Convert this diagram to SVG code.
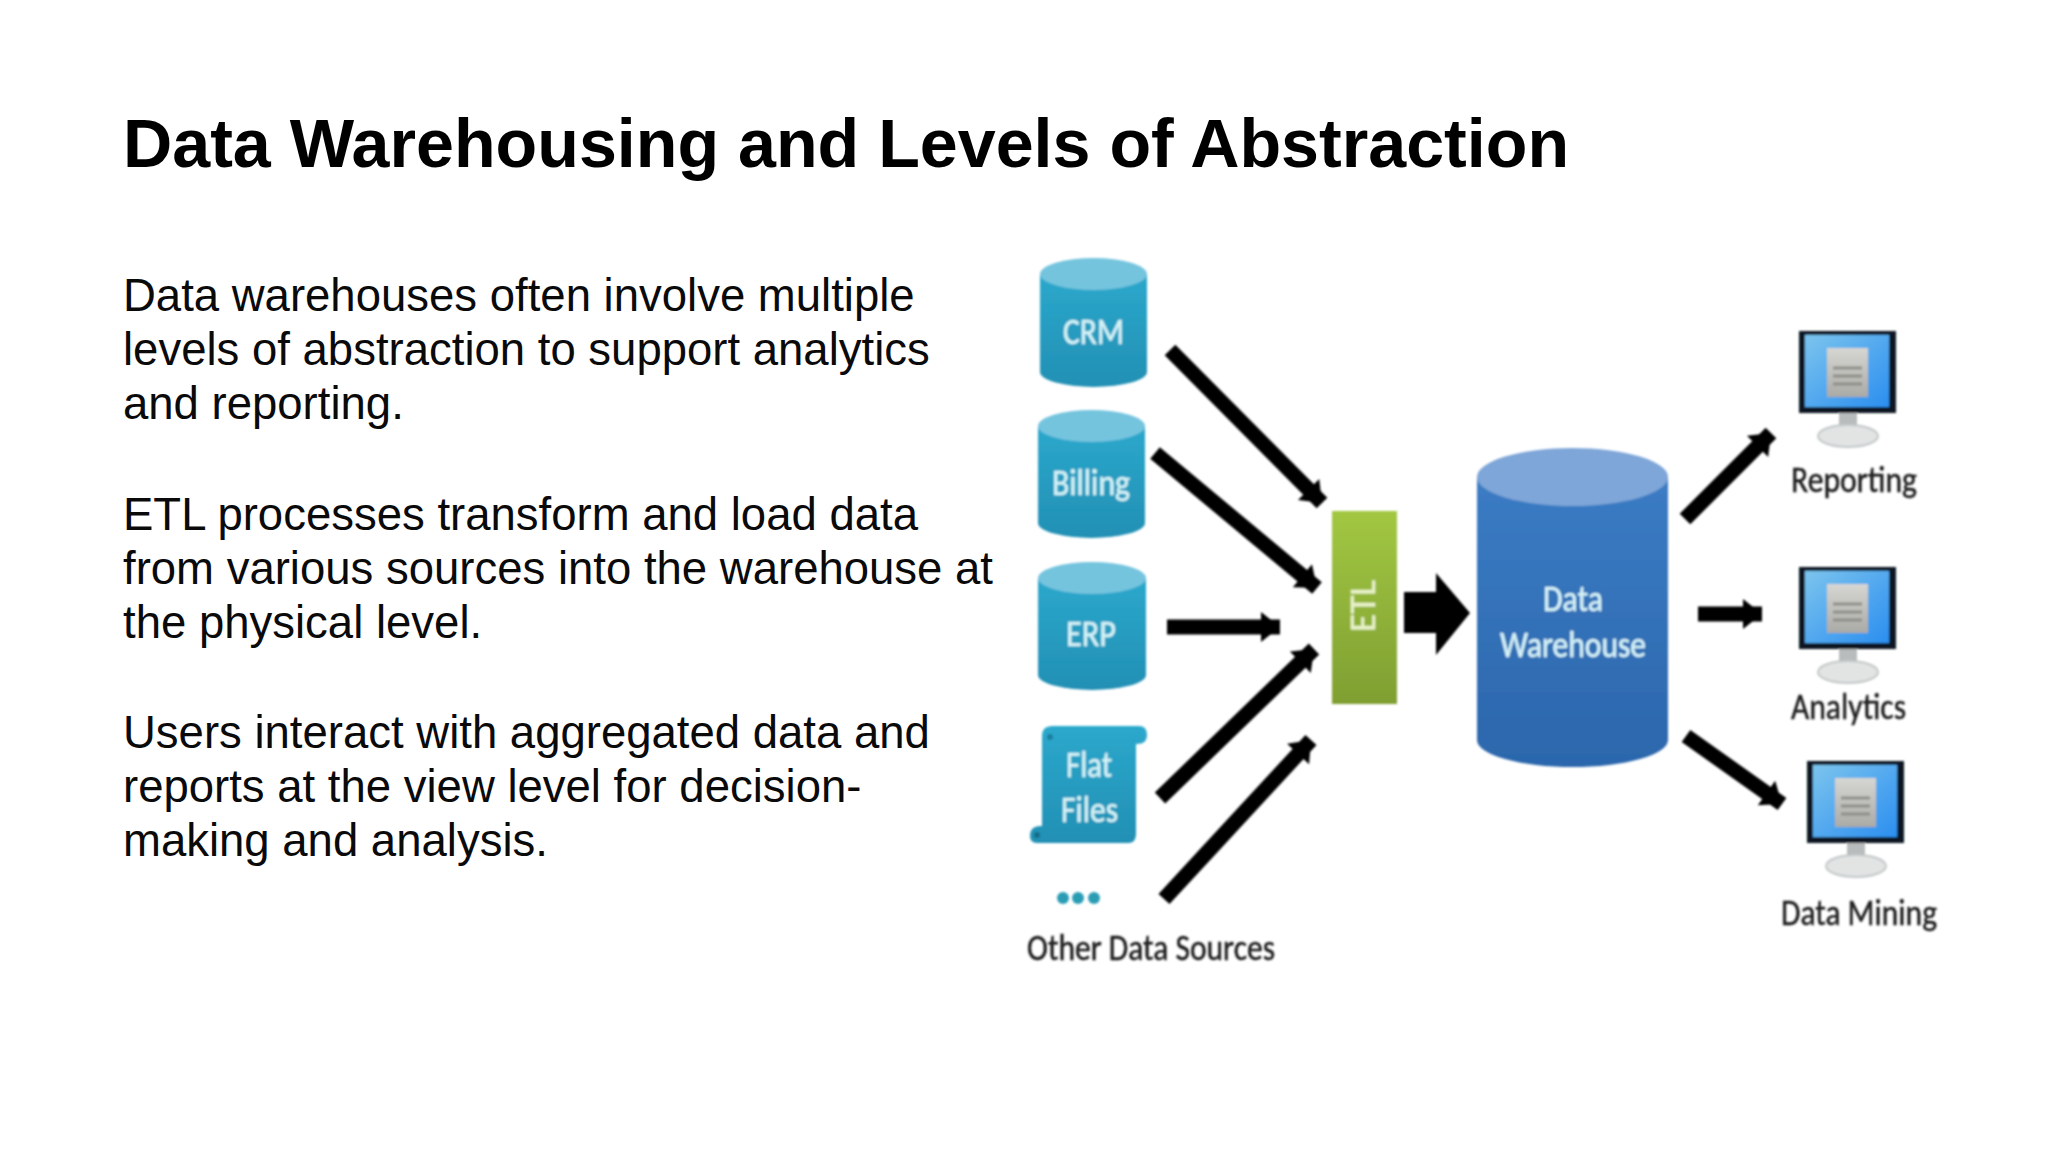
<svg xmlns="http://www.w3.org/2000/svg" width="2048" height="1152" viewBox="0 0 2048 1152">
<style>
.title{font:bold 68.2px "Liberation Sans",Arial,sans-serif;fill:#000}
.body{font:45.5px "Liberation Sans",Arial,sans-serif;fill:#0a0a0a}
.lab{font-family:Carlito,Lato,"Open Sans",sans-serif;font-size:36px;fill:#d4f3f8;stroke:#d4f3f8;stroke-width:.5;text-anchor:start}
.dark{fill:#1e1e1e;stroke:#1e1e1e}
.arr{stroke:#000;stroke-width:15;fill:none;marker-end:url(#ah)}
</style>
<defs>
<filter id="soft" x="-10%" y="-10%" width="120%" height="120%"><feGaussianBlur stdDeviation="1.1"/></filter>
<marker id="ah" markerUnits="userSpaceOnUse" markerWidth="30" markerHeight="34" refX="25" refY="15" orient="auto"><path d="M6 0L25 15L6 30Z" fill="#000"/></marker>
<linearGradient id="teal" x1="0" y1="0" x2="0" y2="1"><stop offset="0" stop-color="#2ba8cc"/><stop offset="1" stop-color="#2290b4"/></linearGradient>
<linearGradient id="blue" x1="0" y1="0" x2="0" y2="1"><stop offset="0" stop-color="#3b7cc4"/><stop offset="1" stop-color="#2c66ac"/></linearGradient>
<linearGradient id="green" x1="0" y1="0" x2="0" y2="1"><stop offset="0" stop-color="#a2c742"/><stop offset="1" stop-color="#7f9f32"/></linearGradient>
<linearGradient id="scr" x1="0" y1="0" x2="1" y2="1"><stop offset="0" stop-color="#7cc4ee"/><stop offset="1" stop-color="#2b8ef0"/></linearGradient>
<linearGradient id="pap" x1="0" y1="0" x2="0" y2="1"><stop offset="0" stop-color="#d6d6d2"/><stop offset="1" stop-color="#aaaaa6"/></linearGradient>
<g id="mon">
<rect x="1839" y="413" width="18" height="16" fill="#b8bcbc"/>
<ellipse cx="1848" cy="436" rx="30" ry="11" fill="#e2e4e4" stroke="#c4c8c8" stroke-width="2"/>
<rect x="1799" y="331" width="97" height="82" fill="#0c1820"/>
<rect x="1805" y="335" width="84" height="72" fill="url(#scr)"/>
<rect x="1827" y="348" width="41" height="49" fill="url(#pap)"/>
<path d="M1833 368H1862M1833 376H1862M1833 384H1862" stroke="#8f8f8a" stroke-width="3" fill="none"/>
</g>
</defs>
<rect width="2048" height="1152" fill="#fff"/>
<text class="title" x="123" y="167">Data Warehousing and Levels of Abstraction</text>
<g id="body-text">
<text class="body" x="123" y="311">Data warehouses often involve multiple</text>
<text class="body" x="123" y="365">levels of abstraction to support analytics</text>
<text class="body" x="123" y="419">and reporting.</text>
<text class="body" x="123" y="530">ETL processes transform and load data</text>
<text class="body" x="123" y="584">from various sources into the warehouse at</text>
<text class="body" x="123" y="638">the physical level.</text>
<text class="body" x="123" y="748">Users interact with aggregated data and</text>
<text class="body" x="123" y="802">reports at the view level for decision-</text>
<text class="body" x="123" y="856">making and analysis.</text>
</g>
<g filter="url(#soft)">
<g id="crm"><path d="M1040 274V372A53.500 15 0 0 0 1147 372V274Z" fill="url(#teal)"/><ellipse cx="1093.500" cy="274" rx="53.500" ry="16" fill="#74c4de"/><text class="lab" x="1063" y="344" textLength="61" lengthAdjust="spacingAndGlyphs">CRM</text></g>
<g id="billing"><path d="M1038 426V523A53.500 15 0 0 0 1145 523V426Z" fill="url(#teal)"/><ellipse cx="1091.500" cy="426" rx="53.500" ry="16" fill="#74c4de"/><text class="lab" x="1052" y="495" textLength="78" lengthAdjust="spacingAndGlyphs">Billing</text></g>
<g id="erp"><path d="M1038 578V675A54 15 0 0 0 1146 675V578Z" fill="url(#teal)"/><ellipse cx="1092" cy="578" rx="54" ry="16" fill="#74c4de"/><text class="lab" x="1066" y="646" textLength="50" lengthAdjust="spacingAndGlyphs">ERP</text></g>
<g id="flat-files"><path d="M1042 736Q1042 726 1052 726H1139Q1147 726 1147 735Q1147 744 1137 744H1136V834Q1136 843 1128 843H1037Q1030 843 1030 836Q1030 826 1040 826H1042Z" fill="url(#teal)"/><circle cx="1050" cy="737" r="3" fill="#1c7fa0"/><circle cx="1037" cy="835" r="3" fill="#146c88"/><text class="lab" x="1066" y="777" textLength="46" lengthAdjust="spacingAndGlyphs">Flat</text><text class="lab" x="1061" y="822" textLength="57" lengthAdjust="spacingAndGlyphs">Files</text></g>
<g id="other-sources"><circle cx="1063" cy="898" r="6" fill="#2a9db5"/><circle cx="1078" cy="898" r="6" fill="#2a9db5"/><circle cx="1094" cy="898" r="6" fill="#2a9db5"/><text class="lab dark" x="1027" y="960" textLength="248" lengthAdjust="spacingAndGlyphs">Other Data Sources</text></g>
<g id="etl"><rect x="1332" y="511" width="65" height="193" fill="url(#green)"/><text class="lab" transform="translate(1375 632) rotate(-90)" style="fill:#e8f2c8;stroke:#e8f2c8" textLength="52" lengthAdjust="spacingAndGlyphs">ETL</text></g>
<g id="warehouse"><path d="M1477 477V740A95.500 27 0 0 0 1668 740V477Z" fill="url(#blue)"/><ellipse cx="1572.500" cy="477" rx="95.500" ry="29" fill="#7ea6d8"/><text class="lab" x="1543" y="611" textLength="60" lengthAdjust="spacingAndGlyphs">Data</text><text class="lab" x="1500" y="657" textLength="146" lengthAdjust="spacingAndGlyphs">Warehouse</text></g>
<g id="reporting"><use href="#mon"/><text class="lab dark" x="1791" y="492" textLength="126" lengthAdjust="spacingAndGlyphs">Reporting</text></g>
<g id="analytics"><use href="#mon" y="236"/><text class="lab dark" x="1791" y="719" textLength="115" lengthAdjust="spacingAndGlyphs">Analytics</text></g>
<g id="data-mining"><use href="#mon" x="8" y="430"/><text class="lab dark" x="1781" y="925" textLength="156" lengthAdjust="spacingAndGlyphs">Data Mining</text></g>
<g id="connectors">
<line class="arr" x1="1170" y1="350" x2="1322" y2="503"/>
<line class="arr" x1="1155" y1="453" x2="1317" y2="588"/>
<line class="arr" x1="1167" y1="627" x2="1280" y2="627"/>
<line class="arr" x1="1160" y1="798" x2="1314" y2="649"/>
<line class="arr" x1="1164" y1="899" x2="1311" y2="740"/>
<path d="M1404 592H1436V573L1470 613L1436 655V633H1404Z" fill="#000"/>
<line class="arr" x1="1685" y1="519" x2="1771" y2="433"/>
<line class="arr" x1="1698" y1="614" x2="1762" y2="614"/>
<line class="arr" x1="1686" y1="736" x2="1782" y2="804"/>
</g>
</g>
</svg>
